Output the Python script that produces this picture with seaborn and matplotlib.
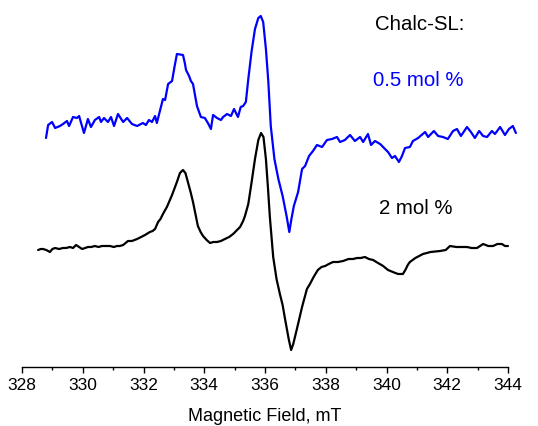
import numpy as np
import pandas as pd
import matplotlib
matplotlib.use("Agg")
import matplotlib.pyplot as plt
import seaborn as sns

# ==========================
# EPR spectra, Chalc-SL (a.u.)
# ==========================
field_05 = [328.79, 328.86, 328.99, 329.09, 329.25, 329.35, 329.48, 329.55, 329.68, 329.81,
            329.88, 330.04, 330.17, 330.27, 330.40, 330.54, 330.60, 330.70, 330.83, 330.93,
            331.03, 331.16, 331.33, 331.46, 331.62, 331.79, 331.98, 332.08, 332.18, 332.28,
            332.38, 332.44, 332.54, 332.64, 332.71, 332.81, 332.94, 333.02, 333.10, 333.30,
            333.36, 333.40, 333.50, 333.56, 333.63, 333.70, 333.76, 333.89, 334.02, 334.12,
            334.22, 334.29, 334.42, 334.55, 334.62, 334.75, 334.88, 334.98, 335.11, 335.20,
            335.28, 335.37, 335.45, 335.56, 335.67, 335.78, 335.86, 335.94, 336.03, 336.11,
            336.19, 336.31, 336.44, 336.58, 336.71, 336.80, 336.87, 336.95, 337.09, 337.22,
            337.32, 337.45, 337.58, 337.71, 337.88, 338.04, 338.21, 338.37, 338.47, 338.63,
            338.80, 338.96, 339.13, 339.23, 339.39, 339.49, 339.62, 339.79, 339.95, 340.05,
            340.18, 340.28, 340.41, 340.51, 340.61, 340.77, 340.87, 341.04, 341.27, 341.37,
            341.56, 341.70, 341.86, 342.02, 342.19, 342.32, 342.45, 342.65, 342.78, 342.91,
            343.05, 343.18, 343.31, 343.47, 343.57, 343.74, 343.90, 344.03, 344.16, 344.26]
signal_05 = [-9, 4, 7, 1, 3, 5, 8, 3, 12, 11,
             13, -4, 10, 2, 9, 12, 7, 11, 7, 12,
             3, 15, 7, 11, 5, 3, 6, 4, 9, 7,
             13, 6, 18, 30, 29, 45, 48, 62, 75, 74,
             66, 59, 53, 48, 45, 33, 23, 12, 11, 6,
             0, 14, 11, 9, 12, 15, 13, 20, 12, 22,
             23, 27, 50, 78, 100, 111, 113, 107, 80, 47,
             3, -30, -50, -67, -87, -103, -90, -77, -63, -40,
             -37, -27, -22, -16, -18, -11, -10, -8, -13, -11,
             -6, -12, -8, -13, -5, -16, -12, -15, -20, -23,
             -29, -27, -33, -27, -19, -18, -12, -9, -3, -8,
             -2, -7, -8, -10, -2, 0, -7, 2, -3, -9,
             -2, -7, -8, -2, -5, 2, -6, 0, 3, -4]

field_2 = [328.53, 328.62, 328.69, 328.80, 328.92, 329.00, 329.09, 329.22, 329.35, 329.45,
           329.58, 329.68, 329.78, 329.88, 329.98, 330.08, 330.17, 330.28, 330.40, 330.52,
           330.63, 330.75, 330.90, 331.02, 331.13, 331.22, 331.33, 331.49, 331.62, 331.79,
           331.92, 332.05, 332.21, 332.30, 332.38, 332.48, 332.56, 332.64, 332.77, 332.94,
           333.10, 333.20, 333.30, 333.38, 333.47, 333.55, 333.63, 333.71, 333.79, 333.88,
           333.96, 334.08, 334.19, 334.30, 334.42, 334.55, 334.68, 334.82, 334.95, 335.08,
           335.18, 335.28, 335.34, 335.45, 335.55, 335.67, 335.78, 335.87, 335.95, 336.03,
           336.10, 336.16, 336.27, 336.38, 336.49, 336.58, 336.66, 336.78, 336.86, 336.93,
           337.05, 337.22, 337.38, 337.48, 337.60, 337.74, 337.86, 337.98, 338.10, 338.24,
           338.40, 338.57, 338.75, 338.90, 339.03, 339.15, 339.29, 339.42, 339.56, 339.72,
           339.89, 340.05, 340.21, 340.38, 340.54, 340.62, 340.70, 340.77, 340.95, 341.20,
           341.45, 341.76, 341.95, 342.09, 342.30, 342.50, 342.65, 342.80, 342.98, 343.18,
           343.35, 343.51, 343.65, 343.80, 343.90, 344.00]
signal_2 = [-3, -2, -2, -3, -5, -2, -1, -2, -1, -1,
            0, -1, 2, 0, -2, -1, 0, 0, 1, 0,
            1, 1, 1, 0, 1, 1, 2, 6, 6, 8,
            10, 12, 15, 16, 18, 25, 28, 33, 40, 52,
            65, 74, 77, 74, 64, 55, 45, 33, 21, 15,
            11, 7, 4, 5, 5, 6, 8, 10, 13, 17,
            20, 26, 31, 43, 63, 88, 107, 114, 110, 88,
            58, 30, -10, -32, -47, -58, -72, -92, -103, -97,
            -82, -60, -42, -37, -30, -23, -20, -19, -17, -15,
            -15, -14, -12, -12, -11, -11, -10, -12, -13, -16,
            -19, -23, -25, -27, -27, -23, -18, -15, -11, -7,
            -5, -4, -3, 1, 0, 0, 0, -1, -1, 3,
            1, 1, 3, 3, 1, 1]

offset_05 = 238
offset_2 = 120

df_05 = pd.DataFrame({"field": field_05, "signal": np.array(signal_05) + offset_05})
df_2 = pd.DataFrame({"field": field_2, "signal": np.array(signal_2) + offset_2})

sns.set_style("white")
plt.rcParams['font.family'] = ['Liberation Sans', 'DejaVu Sans']
plt.rcParams['text.color'] = 'black'
plt.rcParams['xtick.color'] = 'black'
plt.rcParams['axes.labelcolor'] = 'black'

fig = plt.figure(figsize=(5.38, 4.27), dpi=100)
ax = fig.add_axes([22 / 538, 59 / 427, 486 / 538, 363 / 427])

sns.lineplot(data=df_05, x="field", y="signal", color="#0000ff", lw=1.6,
             sort=False, estimator=None, ax=ax, clip_on=False)
sns.lineplot(data=df_2, x="field", y="signal", color="black", lw=1.6,
             sort=False, estimator=None, ax=ax, clip_on=False)

ax.set_xlim(328, 344)
ax.set_ylim(0, 363)
ax.set_xticks(np.arange(328, 345, 2))
ax.set_xticks(np.arange(329, 344, 2), minor=True)
ax.set_yticks([])
for s in ["left", "right", "top"]:
    ax.spines[s].set_visible(False)
ax.spines["bottom"].set_linewidth(1.0)
ax.spines["bottom"].set_color("black")
ax.tick_params(axis="x", which="major", direction="out", length=4, width=1,
               labelsize=12.5, pad=3, bottom=True)
ax.tick_params(axis="x", which="minor", direction="out", length=2.5, width=1, bottom=True)
ax.set_xlabel("Magnetic Field, mT", fontsize=13, labelpad=11)
ax.set_ylabel("")

ax.text(339.62, 343, "Chalc-SL:", fontsize=14.7, va="center", ha="left", color="black")
ax.text(339.56, 288, "0.5 mol %", fontsize=14.7, va="center", ha="left", color="#0000ff")
ax.text(339.75, 159, "2 mol %", fontsize=14.7, va="center", ha="left", color="black")

fig.savefig("out.png", dpi=100)
